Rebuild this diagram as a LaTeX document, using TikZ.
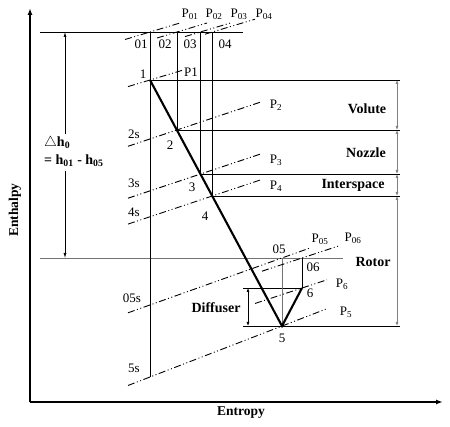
\documentclass[tikz,border=0pt]{standalone}
\usepackage{fontspec}
\setmainfont{Liberation Serif}
\usetikzlibrary{arrows.meta}
\begin{document}
\begin{tikzpicture}[x=1pt,y=-1pt,
  axis/.style={line width=1.7pt,-{Latex[length=7pt,width=5pt]}},
  proc/.style={line width=2.1pt},
  thinln/.style={line width=0.7pt},
  grayln/.style={line width=0.8pt,draw=black!55},
  isobar/.style={line width=0.9pt,dash pattern=on 7pt off 2.5pt on 1pt off 2.5pt on 1pt off 2.5pt},
  dimarrow/.style={line width=0.7pt,{Latex[length=4pt,width=3pt]}-{Latex[length=4pt,width=3pt]}},
  dimgray/.style={dimarrow,draw=black!50},
  sarrow/.style={line width=0.7pt,-{Latex[length=5pt,width=3pt]}},
  lbl/.style={font=\fontsize{13}{15}\selectfont,inner sep=0pt},
  blbl/.style={font=\bfseries\fontsize{14}{16}\selectfont,inner sep=0pt},
  axlbl/.style={font=\bfseries\fontsize{13.5}{16}\selectfont,inner sep=0pt}]
\useasboundingbox (0,0) rectangle (450,427);

% axes
\coordinate (origin) at (30,402);
\coordinate (ytip) at (30,8);
\coordinate (xtip) at (443,402);
\draw[axis] (origin) -- (ytip);
\draw[axis] (origin) -- (xtip);
\node[axlbl,rotate=90] (enth) at (15,210) {Enthalpy};
\node[axlbl] (entr) at (241,413) {Entropy};

% key points
\coordinate (o1) at (150,32);
\coordinate (o2) at (177,32);
\coordinate (o3) at (200.5,32);
\coordinate (o4) at (212.3,32);
\coordinate (p1) at (150,80);
\coordinate (p2) at (177,130);
\coordinate (p3) at (200.5,174);
\coordinate (p4) at (212.3,196);
\coordinate (p5) at (282,326);
\coordinate (p6) at (302,288);
\coordinate (o5) at (282,258);
\coordinate (o6) at (302,258);
\coordinate (s5) at (150,377);

% horizontal reference lines
\coordinate (htl) at (40,32);
\coordinate (htr) at (243,32);
\draw[thinln] (htl) -- (htr);
\coordinate (hbl) at (40,258);
\coordinate (hbr) at (343,258);
\draw[grayln] (hbl) -- (hbr);
\coordinate (r1) at (400,80);
\coordinate (r2) at (400,130);
\coordinate (r3) at (400,174);
\coordinate (r4) at (400,196);
\coordinate (r5) at (400,326);
\coordinate (l5) at (243,326);
\coordinate (l6) at (243,288);
\draw[thinln] (p1) -- (r1);
\draw[thinln] (p2) -- (r2);
\draw[thinln] (p3) -- (r3);
\draw[thinln] (p4) -- (r4);
\draw[thinln] (l5) -- (r5);
\draw[thinln] (l6) -- (p6);

% vertical lines
\draw[thinln] (o1) -- (s5);
\draw[thinln] (o2) -- (p2);
\draw[thinln] (o3) -- (p3);
\draw[thinln] (o4) -- (p4);
\draw[grayln] (o5) -- (p5);
\draw[thinln] (o6) -- (p6);

% isobars
\coordinate (a01) at (125,39.5);   \coordinate (b01) at (180,23);
\coordinate (a02) at (157,38);     \coordinate (b02) at (207,23);
\coordinate (a03) at (185,36.6);   \coordinate (b03) at (232,22.5);
\coordinate (a04) at (205,34.2);   \coordinate (b04) at (255,19.2);
\coordinate (a1) at (128,86.6);    \coordinate (b1) at (182,70.4);
\coordinate (a2) at (128,146.3);   \coordinate (b2) at (260,102.3);
\coordinate (a3) at (128,198.2);   \coordinate (b3) at (260,154.2);
\coordinate (a4) at (128,224.1);   \coordinate (b4) at (260,180.1);
\coordinate (a05) at (128,312.8);  \coordinate (b05) at (310,248);
\coordinate (a5) at (128,385.5);   \coordinate (b5) at (328,308.3);
\coordinate (a6) at (255,303.5);   \coordinate (b6) at (327,279.8);
\coordinate (a06) at (262,271.2);  \coordinate (b06) at (340,245.5);
\foreach \n in {01,02,03,04,1,2,3,4,05,5,6,06}
  \draw[isobar] (a\n) -- (b\n);

% process line
\draw[proc] (p1) -- (p5) -- (p6);

% delta h0 arrows
\node[blbl,anchor=west] (dh) at (44,143) {$\triangle$h\textsubscript{0}};
\node[blbl,anchor=west] (dheq) at (44,161) {= h\textsubscript{01} - h\textsubscript{05}};
\coordinate (dtop) at (65,32);
\coordinate (dbot) at (65,258);
\coordinate (dup) at (65,134);
\coordinate (ddn) at (65,171);
\draw[sarrow] (dup) -- (dtop);
\draw[sarrow] (ddn) -- (dbot);

% right dimension arrows
\coordinate (d1) at (397,80);
\coordinate (d2) at (397,130);
\coordinate (d3) at (397,174);
\coordinate (d4) at (397,196);
\coordinate (d5) at (397,326);
\draw[dimgray] (d1) -- (d2);
\draw[dimgray] (d2) -- (d3);
\draw[dimgray] (d3) -- (d4);
\draw[dimgray] (d4) -- (d5);
\node[blbl] (volute) at (367,109) {Volute};
\node[blbl] (nozzle) at (366,153) {Nozzle};
\node[blbl] (inter) at (353,185) {Interspace};
\node[blbl] (rotor) at (373,262) {Rotor};

% diffuser arrow
\coordinate (df1) at (248,288);
\coordinate (df2) at (248,326);
\draw[dimarrow] (df1) -- (df2);
\node[blbl] (diff) at (216,308) {Diffuser};

% point labels
\node[lbl] (t1) at (143,74) {1};
\node[lbl] (t2s) at (134,134) {2s};
\node[lbl] (t2) at (170,145) {2};
\node[lbl] (t3s) at (134,183) {3s};
\node[lbl] (t3) at (192,187) {3};
\node[lbl] (t4s) at (134,212) {4s};
\node[lbl] (t4) at (205,216) {4};
\node[lbl] (t05s) at (132,298) {05s};
\node[lbl] (t5s) at (134,368) {5s};
\node[lbl] (t05) at (279,249) {05};
\node[lbl] (t06) at (313,267) {06};
\node[lbl] (t6) at (310,293) {6};
\node[lbl] (t5) at (282,338) {5};
\node[lbl] (t01) at (141,44) {01};
\node[lbl] (t02) at (165,44) {02};
\node[lbl] (t03) at (190,44) {03};
\node[lbl] (t04) at (225,44) {04};

% pressure labels
\node[lbl] (lp01) at (190,14) {P\textsubscript{01}};
\node[lbl] (lp02) at (214,14) {P\textsubscript{02}};
\node[lbl] (lp03) at (239,14) {P\textsubscript{03}};
\node[lbl] (lp04) at (264,14) {P\textsubscript{04}};
\node[lbl] (lp1) at (191,72) {P1};
\node[lbl] (lp2) at (276,105) {P\textsubscript{2}};
\node[lbl] (lp3) at (276,160) {P\textsubscript{3}};
\node[lbl] (lp4) at (276,186) {P\textsubscript{4}};
\node[lbl] (lp05) at (320,239) {P\textsubscript{05}};
\node[lbl] (lp06) at (353,238) {P\textsubscript{06}};
\node[lbl] (lp6) at (342,284) {P\textsubscript{6}};
\node[lbl] (lp5) at (346,312) {P\textsubscript{5}};
\end{tikzpicture}
\end{document}
